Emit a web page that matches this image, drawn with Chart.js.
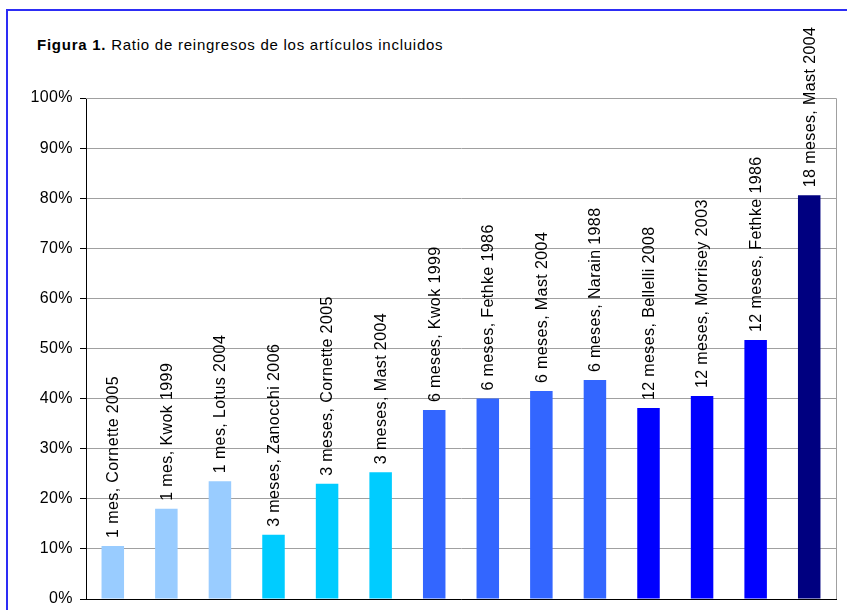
<!DOCTYPE html>
<html>
<head>
<meta charset="utf-8">
<script src="https://cdn.jsdelivr.net/npm/chart.js@4"></script>
<style>
  body { margin: 0; background: #fff; }
  #wrap { position: relative; width: 847px; height: 610px; overflow: hidden; }
  #frame { position: absolute; left: 6px; top: 9px; right: -10px; bottom: -10px;
           border-top: 2px solid #2d2df5; border-left: 2px solid #2d2df5; }
  #title { position: absolute; left: 37px; top: 36px; font: 15px "Liberation Sans", Arial, sans-serif;
           letter-spacing: 0.75px; color: #000; }
  canvas { position: absolute; left: 0; top: 0; }
</style>
</head>
<body>
<div id="wrap">
  <div id="frame"></div>
  <div id="title"><b>Figura 1.</b> Ratio de reingresos de los artículos incluidos</div>
  <canvas id="c" width="847" height="610"></canvas>
</div>
<script>
// etiquetas de cada barra
const labels = [
  '1 mes, Cornette 2005', '1 mes, Kwok 1999', '1 mes, Lotus 2004',
  '3 meses, Zanocchi 2006', '3 meses, Cornette 2005', '3 meses, Mast 2004',
  '6 meses, Kwok 1999', '6 meses, Fethke 1986', '6 meses, Mast 2004', '6 meses, Narain 1988',
  '12 meses, Bellelli 2008', '12 meses, Morrisey 2003', '12 meses, Fethke 1986',
  '18 meses, Mast 2004'
];
// ratio de reingresos (%)
const values = [10.6, 18.0, 23.5, 12.8, 23.0, 25.3, 37.7, 40.0, 41.5, 43.7, 38.1, 40.5, 51.7, 80.6];
// color por periodo de seguimiento
const colors = [
  '#99ccff', '#99ccff', '#99ccff',
  '#00ccff', '#00ccff', '#00ccff',
  '#3366ff', '#3366ff', '#3366ff', '#3366ff',
  '#0000ff', '#0000ff', '#0000ff',
  '#000080'
];
const yTicks = [0, 10, 20, 30, 40, 50, 60, 70, 80, 90, 100];

const FONT = '"Liberation Sans", Arial, sans-serif';

// texto vertical encima de cada barra + marco gris del área
const barLabels = {
  id: 'barLabels',
  beforeDraw(chart) {
    chart.ctx.letterSpacing = '0.4px';
  },
  beforeDatasetsDraw(chart) {
    const { ctx, chartArea: a } = chart;
    ctx.save();
    ctx.strokeStyle = '#a0a0a0';
    ctx.lineWidth = 1;
    ctx.beginPath();
    ctx.moveTo(a.left, a.top + 0.5);
    ctx.lineTo(a.right + 0.5, a.top + 0.5);
    ctx.lineTo(a.right + 0.5, a.bottom);
    ctx.stroke();
    ctx.restore();
  },
  afterDatasetsDraw(chart) {
    const { ctx } = chart;
    const meta = chart.getDatasetMeta(0);
    ctx.save();
    ctx.font = '16px ' + FONT;
    ctx.fillStyle = '#000';
    ctx.textAlign = 'left';
    ctx.textBaseline = 'middle';
    meta.data.forEach((bar, i) => {
      ctx.save();
      ctx.translate(bar.x + 1, bar.y - 8);
      ctx.rotate(-Math.PI / 2);
      ctx.fillText(labels[i], 0, 0);
      ctx.restore();
    });
    ctx.restore();
  }
};

new Chart(document.getElementById('c'), {
  type: 'bar',
  data: {
    labels,
    datasets: [{
      data: values,
      backgroundColor: colors,
      borderWidth: 0,
      categoryPercentage: 1,
      barPercentage: 0.42
    }]
  },
  options: {
    responsive: false,
    animation: false,
    layout: { padding: { top: 98, right: 11, bottom: 11, left: 0 } },
    plugins: {
      legend: { display: false },
      tooltip: { enabled: false }
    },
    scales: {
      x: {
        afterFit(scale) { scale.height = 0; },
        ticks: { display: false },
        grid: { display: false, drawTicks: false },
        border: { color: '#000', width: 1 }
      },
      y: {
        min: 0,
        max: 100,
        afterFit(scale) {
          scale.width = 86;
          scale.paddingTop = 0;
          scale.paddingBottom = 0;
        },
        afterBuildTicks(scale) { scale.ticks = yTicks.map(v => ({ value: v })); },
        ticks: {
          padding: 7,
          color: '#000',
          font: { family: FONT, size: 16 },
          callback: v => v + '%'
        },
        grid: { color: '#a0a0a0', tickColor: '#000', tickLength: 6 },
        border: { color: '#000', width: 1 }
      }
    }
  },
  plugins: [barLabels]
});
</script>
</body>
</html>
